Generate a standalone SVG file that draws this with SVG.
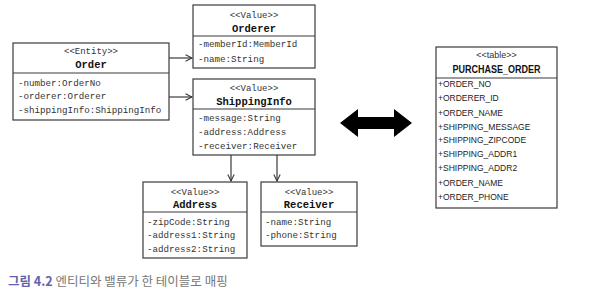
<svg xmlns="http://www.w3.org/2000/svg" width="605" height="294" viewBox="0 0 605 294">
<defs>
<marker id="open" viewBox="0 0 10 10" refX="9" refY="5" markerWidth="8" markerHeight="8" markerUnits="userSpaceOnUse" orient="auto">
<path d="M1,1 L9,5 L1,9" fill="none" stroke="#333" stroke-width="1.3"/>
</marker>
<style>
.box{fill:#fff;stroke:#3a3a3a;stroke-width:1.2}
.div{stroke:#3a3a3a;stroke-width:1.2}
.st{font-family:"Liberation Mono","DejaVu Sans Mono",monospace;font-size:9px;fill:#333;text-anchor:middle}
.tt{font-family:"Liberation Mono","DejaVu Sans Mono",monospace;font-size:10.5px;font-weight:bold;fill:#111;text-anchor:middle}
.at{font-family:"Liberation Mono","DejaVu Sans Mono",monospace;font-size:9.2px;fill:#333}
.ts{font-family:"Liberation Sans",Arial,sans-serif;font-size:8.5px;fill:#222}
.tst{font-family:"Liberation Sans",Arial,sans-serif;font-size:9px;fill:#333;text-anchor:middle}
.ttt{font-family:"Liberation Sans",Arial,sans-serif;font-size:10.5px;font-weight:bold;fill:#111;text-anchor:middle}
.con{fill:none;stroke:#3a3a3a;stroke-width:1.2}
</style>
</defs>
<rect width="605" height="294" fill="#fff"/>

<g id="order">
<rect class="box" x="13" y="43" width="156" height="77"/>
<line class="div" x1="13" y1="73" x2="169" y2="73"/>
<text class="st" x="91" y="54">&lt;&lt;Entity&gt;&gt;</text>
<text class="tt" x="91" y="68">Order</text>
<text class="at" x="18" y="86">-number:OrderNo</text>
<text class="at" x="18" y="99">-orderer:Orderer</text>
<text class="at" x="18" y="113">-shippingInfo:ShippingInfo</text>
</g>

<g id="orderer">
<rect class="box" x="193" y="5" width="122" height="63"/>
<line class="div" x1="193" y1="36" x2="315" y2="36"/>
<text class="st" x="254" y="18">&lt;&lt;Value&gt;&gt;</text>
<text class="tt" x="254" y="32">Orderer</text>
<text class="at" x="198" y="47">-memberId:MemberId</text>
<text class="at" x="198" y="62">-name:String</text>
</g>

<g id="shippinginfo">
<rect class="box" x="193" y="79" width="122" height="76"/>
<line class="div" x1="193" y1="109" x2="315" y2="109"/>
<text class="st" x="254" y="91">&lt;&lt;Value&gt;&gt;</text>
<text class="tt" x="254" y="105">ShippingInfo</text>
<text class="at" x="198" y="121">-message:String</text>
<text class="at" x="198" y="135">-address:Address</text>
<text class="at" x="198" y="149">-receiver:Receiver</text>
</g>

<g id="address">
<rect class="box" x="143" y="182" width="104" height="76"/>
<line class="div" x1="143" y1="212" x2="247" y2="212"/>
<text class="st" x="195" y="195">&lt;&lt;Value&gt;&gt;</text>
<text class="tt" x="195" y="208">Address</text>
<text class="at" x="147" y="225">-zipCode:String</text>
<text class="at" x="147" y="238">-address1:String</text>
<text class="at" x="147" y="252">-address2:String</text>
</g>

<g id="receiver">
<rect class="box" x="261" y="182" width="96" height="64"/>
<line class="div" x1="261" y1="212" x2="357" y2="212"/>
<text class="st" x="309" y="195">&lt;&lt;Value&gt;&gt;</text>
<text class="tt" x="309" y="208">Receiver</text>
<text class="at" x="265" y="225">-name:String</text>
<text class="at" x="265" y="238">-phone:String</text>
</g>

<g id="purchase_order">
<rect class="box" x="436" y="47" width="121" height="161"/>
<line class="div" x1="436" y1="78" x2="557" y2="78"/>
<text class="tst" x="496.5" y="58">&lt;&lt;table&gt;&gt;</text>
<text class="ttt" x="496.5" y="73" textLength="88" lengthAdjust="spacingAndGlyphs">PURCHASE_ORDER</text>
<text class="ts" x="438" y="87">+ORDER_NO</text>
<text class="ts" x="438" y="101">+ORDERER_ID</text>
<text class="ts" x="438" y="116">+ORDER_NAME</text>
<text class="ts" x="438" y="130">+SHIPPING_MESSAGE</text>
<text class="ts" x="438" y="143">+SHIPPING_ZIPCODE</text>
<text class="ts" x="438" y="157">+SHIPPING_ADDR1</text>
<text class="ts" x="438" y="171">+SHIPPING_ADDR2</text>
<text class="ts" x="438" y="186">+ORDER_NAME</text>
<text class="ts" x="438" y="200">+ORDER_PHONE</text>
</g>

<g id="connectors">
<path class="con" d="M169,58 L192,58" marker-end="url(#open)"/>
<path class="con" d="M169,97 L192,97" marker-end="url(#open)"/>
<path class="con" d="M231,155 L231,181" marker-end="url(#open)"/>
<path class="con" d="M277,155 L277,181" marker-end="url(#open)"/>
<path d="M340,123 L358,109 L358,117 L394,117 L394,109 L412,123 L394,137 L394,129 L358,129 L358,137 Z" fill="#000"/>
</g>

<g id="caption">
<text x="8" y="286" font-family="'Noto Sans CJK KR','Noto Sans',sans-serif" font-size="12.5px"><tspan fill="#6363ad" font-weight="bold">그림 4.2</tspan><tspan fill="#777"> 엔티티와 밸류가 한 테이블로 매핑</tspan></text>
</g>
</svg>
